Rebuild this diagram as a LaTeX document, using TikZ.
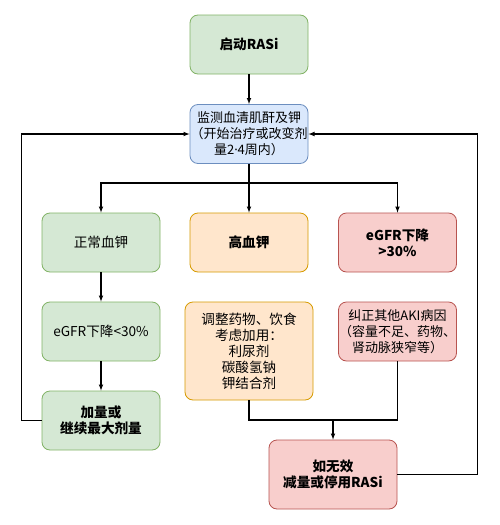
\documentclass[tikz,border=0pt]{standalone}
\usepackage{fontspec}
\newfontfamily\cjk{Noto Sans CJK SC}
\newfontfamily\latn{Noto Sans}
\usepackage{tikz}
\usetikzlibrary{calc,shapes,arrows}
\definecolor{grnfill}{HTML}{D5E8D4}
\definecolor{grnline}{HTML}{82B366}
\definecolor{blufill}{HTML}{DAE8FC}
\definecolor{bluline}{HTML}{6C8EBF}
\definecolor{orafill}{HTML}{FFE6CC}
\definecolor{oraline}{HTML}{D79B00}
\definecolor{redfill}{HTML}{F8CECC}
\definecolor{redline}{HTML}{B85450}
\tikzset{
  box/.style={rounded corners=8pt, line width=0.8pt, align=center,
    minimum width=118pt, minimum height=59pt, inner xsep=0pt, inner ysep=2pt,
    font=\cjk\fontsize{13.6}{16}\selectfont},
  bold/.style={font=\cjk\bfseries\fontsize{13.6}{16}\selectfont},
  tight/.style={font=\cjk\fontsize{13}{16}\selectfont},
  grnbox/.style={box, fill=grnfill, draw=grnline},
  blubox/.style={box, fill=blufill, draw=bluline},
  orabox/.style={box, fill=orafill, draw=oraline},
  redbox/.style={box, fill=redfill, draw=redline},
  link/.style={line width=1.1pt, -latex}
}
\begin{document}
\begin{tikzpicture}[x=1pt, y=-1pt]
    \useasboundingbox[fill=white] (0,0) rectangle (500,525);
    \node[grnbox, bold] (start) at (249,44.5) {启动RASi};
    \node[blubox, tight] (monitor) at (249,134) {监测血清肌酐及钾\\（开始治疗或改变剂\\量2{\latn·}4周内）};
    \node[grnbox] (normk) at (101,242.5) {正常血钾};
    \node[orabox, bold] (highk) at (249,242.5) {高血钾};
    \node[redbox, bold] (gfrdrop) at (397.5,242.5) {eGFR下降\\>30\%};
    \node[grnbox] (gfrlow) at (101,331.5) {eGFR下降<30\%};
    \node[orabox, minimum width=128pt, minimum height=98pt] (adjust) at (249,351) {调整药物、饮食\\考虑加用：\\利尿剂\\碳酸氢钠\\钾结合剂};
    \node[redbox, tight] (aki) at (397.5,331.5) {纠正其他AKI病因\\（容量不足、药物、\\肾动脉狭窄等）};
    \node[grnbox, bold] (maxdose) at (101,420.5) {加量或\\继续最大剂量};
    \node[redbox, bold, minimum width=128pt, minimum height=69pt] (stop) at (333,474.5) {如无效\\减量或停用RASi};
    \coordinate (split) at (249,183);
    \coordinate (join) at (333,420);
    \draw[link] (start) -- (monitor);
    \draw[line width=1.1pt] (monitor) -- (split);
    \foreach \t in {normk,highk,gfrdrop}
        \draw[link] (split) -| (\t);
    \draw[link] (normk) -- (gfrlow);
    \draw[link] (gfrlow) -- (maxdose);
    \draw[line width=1.1pt] (adjust) |- (join);
    \draw[line width=1.1pt] (aki) |- (join);
    \draw[link] (join) -- (stop);
    \draw[link] (maxdose.west) -- ++(-20,0) |- (monitor.west);
    \draw[link] (stop.east) -- ++(80,0) |- (monitor.east);
\end{tikzpicture}
\end{document}
